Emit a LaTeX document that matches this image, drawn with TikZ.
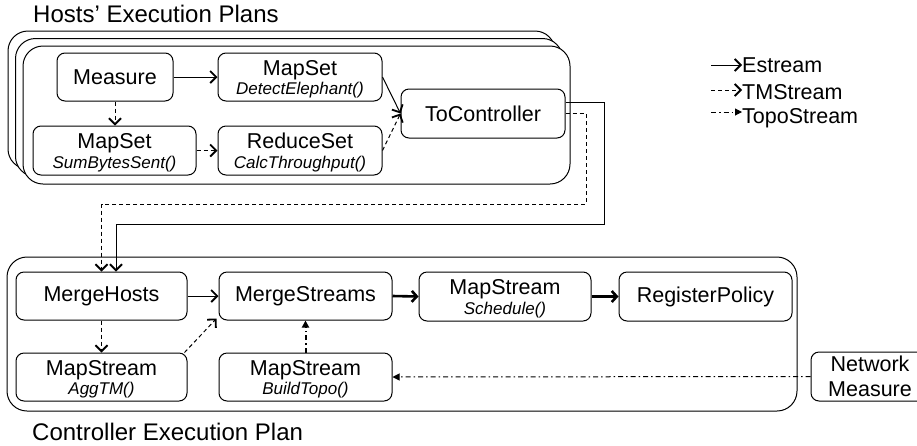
\documentclass[tikz,border=0pt]{standalone}
\usepackage{fontspec}
\setmainfont{Liberation Sans}
\usetikzlibrary{arrows.meta}
\newcommand{\twol}[2]{\raisebox{-17.5pt}[0pt][0pt]{\vbox{\baselineskip=19.5pt\halign{\hfil##\hfil\cr\fontsize{21.5}{19.5}\selectfont #1\cr\fontsize{17}{19.5}\selectfont\itshape #2\cr}}}}
\newcommand{\twon}[2]{\raisebox{-20pt}[0pt][0pt]{\vbox{\baselineskip=25pt\halign{\hfil##\hfil\cr\fontsize{21.5}{25}\selectfont #1\cr\fontsize{21.5}{25}\selectfont #2\cr}}}}
\tikzset{
  box/.style={draw, rounded corners=8pt, line width=1pt, fill=white, inner sep=0pt,
    font=\fontsize{21.5}{24}\selectfont},
  big/.style={draw, rounded corners=20pt, line width=1pt, fill=white, inner sep=0pt},
  es/.style={line width=1pt, -{Straight Barb[length=6pt,width=12pt,line width=1.8pt]}},
  tm/.style={es, dash pattern=on 4pt off 3pt},
  topo/.style={line width=1pt, dash pattern=on 5pt off 3pt on 1.5pt off 3pt,
    -{Triangle[length=7pt,width=7pt]}},
  thk/.style={line width=2.6pt, -{Straight Barb[length=5pt,width=11pt]}},
  ttl/.style={anchor=base west, inner sep=0pt, font=\fontsize{24}{28}\selectfont},
  lg/.style={anchor=base west, inner sep=0pt, font=\fontsize{21.5}{24}\selectfont},
}
\begin{document}
\begin{tikzpicture}[x=1pt,y=-1pt]
\useasboundingbox (0,0) rectangle (917,445);
% titles
\node[ttl] (t1) at (33,22.5) {Hosts’ Execution Plans};
\node[ttl] (t2) at (32,440) {Controller Execution Plan};
% host stacked plans
\node[big, minimum width=547pt, minimum height=138pt] (h1) at (281.5,100) {};
\node[big, minimum width=547pt, minimum height=138pt] (h2) at (289,107.5) {};
\node[big, minimum width=547pt, minimum height=138pt] (h3) at (296.5,115) {};
% host nodes
\node[box, minimum width=116pt, minimum height=48pt] (meas) at (115,77) {Measure};
\node[box, minimum width=164pt, minimum height=48pt] (det) at (300,77) {\twol{MapSet}{DetectElephant()}};
\node[box, minimum width=163pt, minimum height=49pt] (sum) at (114.5,150.5) {\twol{MapSet}{SumBytesSent()}};
\node[box, minimum width=164pt, minimum height=49pt] (red) at (300,150.5) {\twol{ReduceSet}{CalcThroughput()}};
\node[box, minimum width=164pt, minimum height=49pt] (toc) at (483,113.5) {ToController};
% controller plan
\node[big, minimum width=790pt, minimum height=154pt] (cp) at (402,334) {};
\node[box, minimum width=171pt, minimum height=48pt] (mh) at (101.5,296) {MergeHosts};
\node[box, minimum width=171pt, minimum height=48pt] (agg) at (101.5,377) {\twol{MapStream}{AggTM()}};
\node[box, minimum width=173pt, minimum height=48pt] (ms) at (305.5,296) {MergeStreams};
\node[box, minimum width=173pt, minimum height=48pt] (bt) at (305.5,377) {\twol{MapStream}{BuildTopo()}};
\node[box, minimum width=172pt, minimum height=49pt] (sch) at (505,296.5) {\twol{MapStream}{Schedule()}};
\node[box, minimum width=173pt, minimum height=49pt] (rp) at (705.5,296.5) {RegisterPolicy};
\node[box, minimum width=118pt, minimum height=49pt] (nm) at (870,376.5) {\twon{Network}{Measure}};
% legend
\node[lg] (le1) at (742,72) {Estream};
\node[lg] (le2) at (742,99) {TMStream};
\node[lg] (le3) at (742,123) {TopoStream};
\coordinate (l1) at (711,65);
\coordinate (l2) at (711,90);
\coordinate (l3) at (711,112);
\draw[es] (l1) -- (l1 -| le1.west);
\draw[tm] (l2) -- (l2 -| le2.west);
\draw[topo] (l3) -- (l3 -| le3.west);
% host connectors
\draw[es] (meas.east) -- (det.west);
\draw[tm] (meas.south) -- (sum.north -| meas.south);
\draw[tm] (sum.east) -- (red.west);
\draw[es] (det.east) -- (toc.west);
\draw[tm] (red.east) -- (toc.west);
% to controller
\coordinate (s1) at (604,224);
\coordinate (d1) at (586,204);
\draw[es] ([yshift=11.5pt]toc.east) -| (s1) -| ([xshift=14.5pt]mh.north);
\draw[tm] (toc.east) -| (d1) -| (mh.north);
% controller connectors
\draw[es] (mh.east) -- (ms.west);
\draw[tm] (mh.south) -- (agg.north);
\draw[tm] ([xshift=-3pt]agg.north east) -- ([xshift=-2pt,yshift=2pt]ms.south west);
\draw[topo, line width=2pt] (bt.north) -- (ms.south);
\draw[thk] (ms.east) -- (sch.west);
\draw[thk] (sch.east) -- (rp.west);
\draw[topo] (nm.west) -- (bt.east);
\end{tikzpicture}
\end{document}
